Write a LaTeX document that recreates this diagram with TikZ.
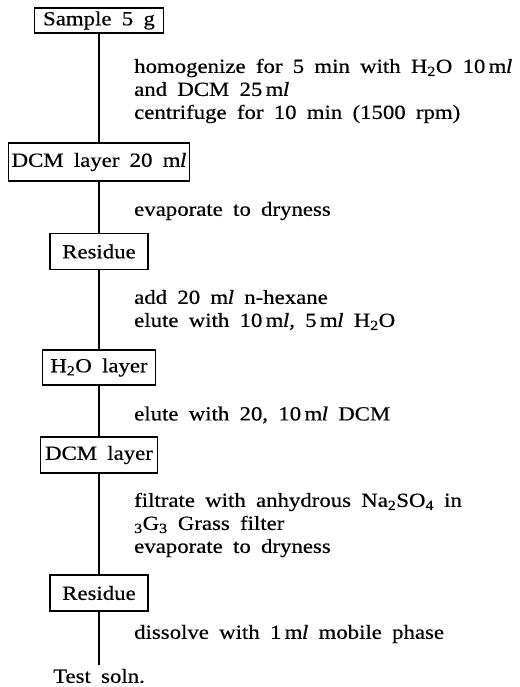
\documentclass[tikz,border=0pt]{standalone}
\usepackage{fontspec}
\setmainfont[FakeStretch=1.14, FakeBold=0.5, WordSpace={1.8,1.2,0.5}]{Liberation Serif}
\newcommand{\mil}{m\kern-0.5pt\textit{l}}
\begin{document}
\begin{tikzpicture}[x=1pt, y=-1pt,
	every node/.style={font=\fontsize{20}{23}\selectfont},
	box/.style={draw, line width=1.4pt, inner sep=3pt, minimum height=36pt},
	note/.style={anchor=west, align=left, inner sep=0pt}]
	\useasboundingbox (0,0) rectangle (519,687);
	% boxes on the main line
	\node[box, minimum width=129pt, minimum height=25pt] (sample) at (99, 20.5) {Sample 5 g};
	\node[box, minimum width=181pt, minimum height=38pt] (dcmtw) at (99, 162) {DCM layer 20 \mil};
	\node[box, minimum width=98pt, minimum height=36pt] (resA) at (99, 251.5) {Residue};
	\node[box, minimum width=113pt, minimum height=35pt] (water) at (99, 367.5) {H\textsubscript{2}O layer};
	\node[box, minimum width=117pt] (dcm) at (99, 455) {DCM layer};
	\node[box, minimum width=98pt, minimum height=36pt] (resB) at (99, 593) {Residue};
	\node (test) at (99, 676) {Test soln.};
	\draw[line width=1.8pt] (sample) -- (dcmtw) -- (resA) -- (water) -- (dcm) -- (resB) -- (test);
	% steps
	\node[note] (stepA) at (134, 91) {homogenize for 5 min with H\textsubscript{2}O 10\,\mil\\and DCM 25\,\mil\\centrifuge for 10 min (1500 rpm)};
	\node[note] (stepB) at (134, 211) {evaporate to dryness};
	\node[note] (stepC) at (134, 310) {add 20 \mil\ n-hexane\\elute with 10\,\mil, 5\,\mil\ H\textsubscript{2}O};
	\node[note] (stepD) at (134, 415) {elute with 20, 10\,\mil\ DCM};
	\node[note] (stepE) at (134, 525) {filtrate with anhydrous Na\textsubscript{2}SO\textsubscript{4} in\\\textsubscript{3}G\textsubscript{3} Grass filter\\evaporate to dryness};
	\node[note] (stepF) at (134, 634) {dissolve with 1\,\mil\ mobile phase};
\end{tikzpicture}
\end{document}
